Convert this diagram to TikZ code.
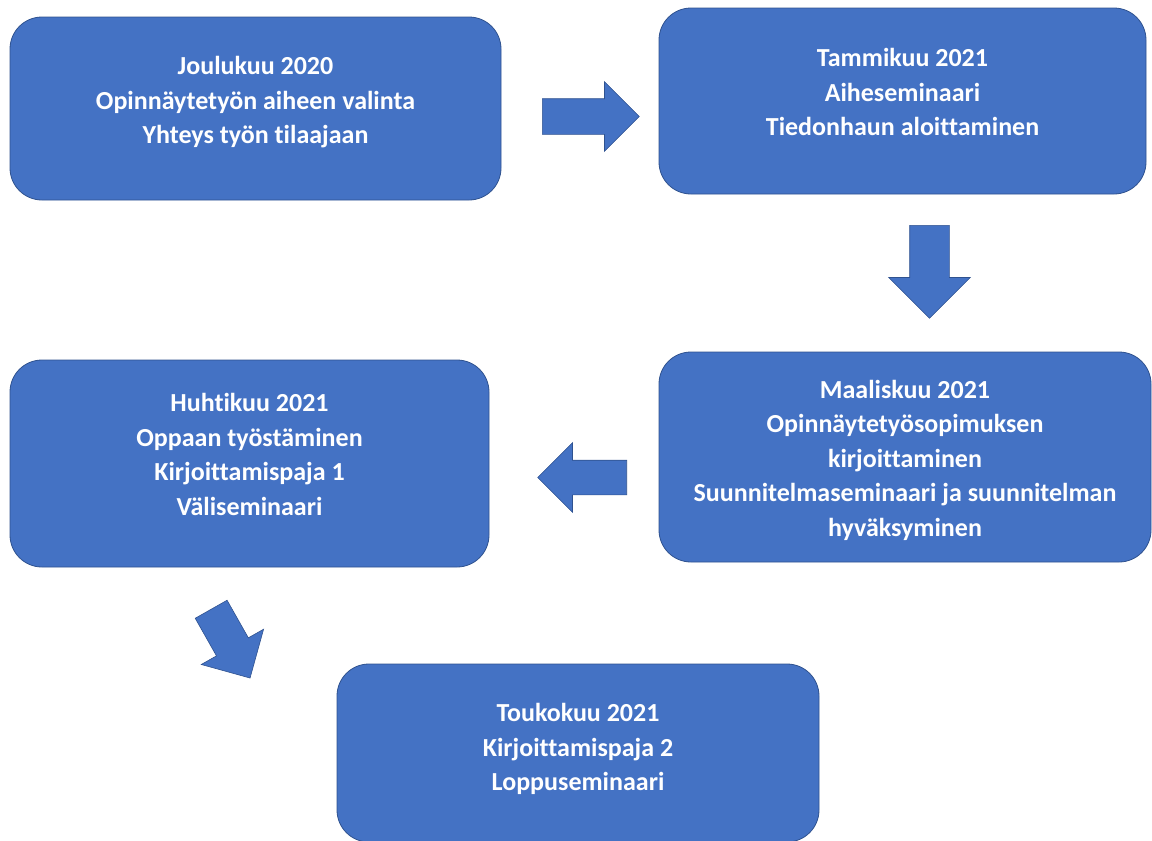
\documentclass[tikz,border=0pt]{standalone}
\usepackage{fontspec}
\setmainfont{Carlito}[Ligatures=NoCommon]
\usepackage{tikz}
\usetikzlibrary{shapes.arrows}

\definecolor{boxblue}{HTML}{4472C4}
\definecolor{edgeblue}{HTML}{2F528F}

\begin{document}
\begin{tikzpicture}[x=1pt,y=-1pt,
			phase/.style={rectangle,rounded corners=32pt,fill=boxblue,draw=edgeblue,
				line width=0.8pt,inner sep=0pt},
			phasetext/.style={text=white,align=center,inner sep=0pt,
				font=\fontsize{26}{34.5}\selectfont\bfseries},
			blockarrow/.style={single arrow,fill=boxblue,draw=edgeblue,
				line width=0.6pt,inner xsep=0pt,anchor=tail}]
			\useasboundingbox (0,0) rectangle (1152,841);
			
			\node[phase,minimum width=491pt,minimum height=183pt,
				label={[phasetext,yshift=6pt]center:{Joulukuu 2020\\Opinnäytetyön aiheen valinta\\Yhteys työn tilaajaan}}]
				(dec) at (255.5,108.5) {};
			\node[phase,minimum width=487pt,minimum height=186pt,
				label={[phasetext,yshift=9pt]center:{Tammikuu 2021\\Aiheseminaari\\Tiedonhaun aloittaminen}}]
				(jan) at (902.5,101) {};
			\node[phase,minimum width=492pt,minimum height=210pt,
				label={[phasetext,yshift=-3pt]center:{Maaliskuu 2021\\Opinnäytetyösopimuksen\\kirjoittaminen\\Suunnitelmaseminaari ja suunnitelman\\hyväksyminen}}]
				(mar) at (905,457) {};
			\node[phase,minimum width=479pt,minimum height=207pt,
				label={[phasetext,yshift=9pt]center:{Huhtikuu 2021\\Oppaan työstäminen\\Kirjoittamispaja 1\\Väliseminaari}}]
				(apr) at (249.5,463.5) {};
			\node[phase,minimum width=482pt,minimum height=178pt,
				label={[phasetext,yshift=4pt]center:{Toukokuu 2021\\Kirjoittamispaja 2\\Loppuseminaari}}]
				(may) at (578,753) {};
			
			% block arrows between the phases
			\node[blockarrow,minimum height=97pt,inner ysep=17.5pt,
				single arrow head extend=17pt] (decjan) at (542,116.5) {};
			\node[blockarrow,minimum height=93pt,inner ysep=19.5pt,
				single arrow head extend=21pt,rotate=-90] (janmar) at (929.5,225) {};
			\node[blockarrow,minimum height=89pt,inner ysep=17pt,
				single arrow head extend=17.5pt,rotate=180] (marapr) at (627,477.5) {};
			\node[blockarrow,minimum height=79pt,inner ysep=18pt,
				single arrow head extend=17.5pt,rotate=-60.5] (aprmay) at (211,609) {};
		\end{tikzpicture}
\end{document}
